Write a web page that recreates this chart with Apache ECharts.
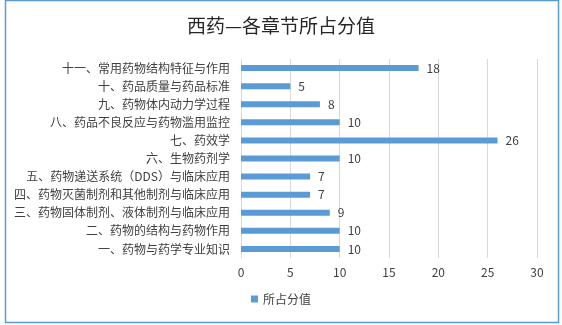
<!DOCTYPE html>
<html>
<head>
<meta charset="utf-8">
<script src="https://cdn.jsdelivr.net/npm/echarts@6/dist/echarts.min.js"></script>
<style>
  html, body { margin: 0; padding: 0; background: #fff; }
  #chart { width: 562px; height: 325px; }
</style>
</head>
<body>
<div id="chart"></div>
<script>
// Chapters listed from top to bottom of the chart
const chapters = [
  '十一、常用药物结构特征与作用',
  '十、药品质量与药品标准',
  '九、药物体内动力学过程',
  '八、药品不良反应与药物滥用监控',
  '七、药效学',
  '六、生物药剂学',
  '五、药物递送系统（DDS）与临床应用',
  '四、药物灭菌制剂和其他制剂与临床应用',
  '三、药物固体制剂、液体制剂与临床应用',
  '二、药物的结构与药物作用',
  '一、药物与药学专业知识'
];
const scores = [18, 5, 8, 10, 26, 10, 7, 7, 9, 10, 10];
const seriesName = '所占分值';
const chartTitle = '西药—各章节所占分值';

const font = '"Microsoft YaHei", "Noto Sans CJK SC", sans-serif';
const chart = echarts.init(document.getElementById('chart'), null, { renderer: 'canvas' });

chart.setOption({
  animation: false,
  backgroundColor: '#fff',
  textStyle: { fontFamily: font },
  graphic: [{
    type: 'rect',
    shape: { x: 5.5, y: 0.5, width: 553, height: 322 },
    style: { fill: 'none', stroke: '#5b9bd5', lineWidth: 1.5 },
    silent: true
  }],
  title: {
    text: chartTitle,
    left: 'center',
    top: 11,
    textStyle: { fontSize: 19, fontWeight: 'normal', color: '#262626', fontFamily: font }
  },
  legend: {
    bottom: 15,
    left: 'center',
    itemWidth: 7,
    itemHeight: 7,
    icon: 'rect',
    itemGap: 4,
    textStyle: { fontSize: 12, color: '#404040', fontFamily: font },
    data: [seriesName]
  },
  grid: { left: 241, right: 25, top: 59, bottom: 67 },
  xAxis: {
    type: 'value',
    min: 0,
    max: 30,
    interval: 5,
    axisLine: { show: false },
    axisTick: { show: false },
    axisLabel: { fontSize: 12, color: '#404040', margin: 8, fontFamily: font },
    splitLine: { lineStyle: { color: '#d9d9d9', width: 1 } }
  },
  yAxis: {
    type: 'category',
    inverse: true,
    data: chapters,
    axisLine: { show: true, lineStyle: { color: '#d9d9d9' } },
    axisTick: { show: false },
    axisLabel: { fontSize: 12, color: '#404040', margin: 11, fontFamily: font }
  },
  series: [{
    name: seriesName,
    type: 'bar',
    data: scores,
    barWidth: 6,
    itemStyle: { color: '#5b9bd5' },
    label: {
      show: true,
      position: 'right',
      distance: 8,
      fontSize: 12,
      color: '#404040',
      fontFamily: font
    }
  }]
});
</script>
</body>
</html>
